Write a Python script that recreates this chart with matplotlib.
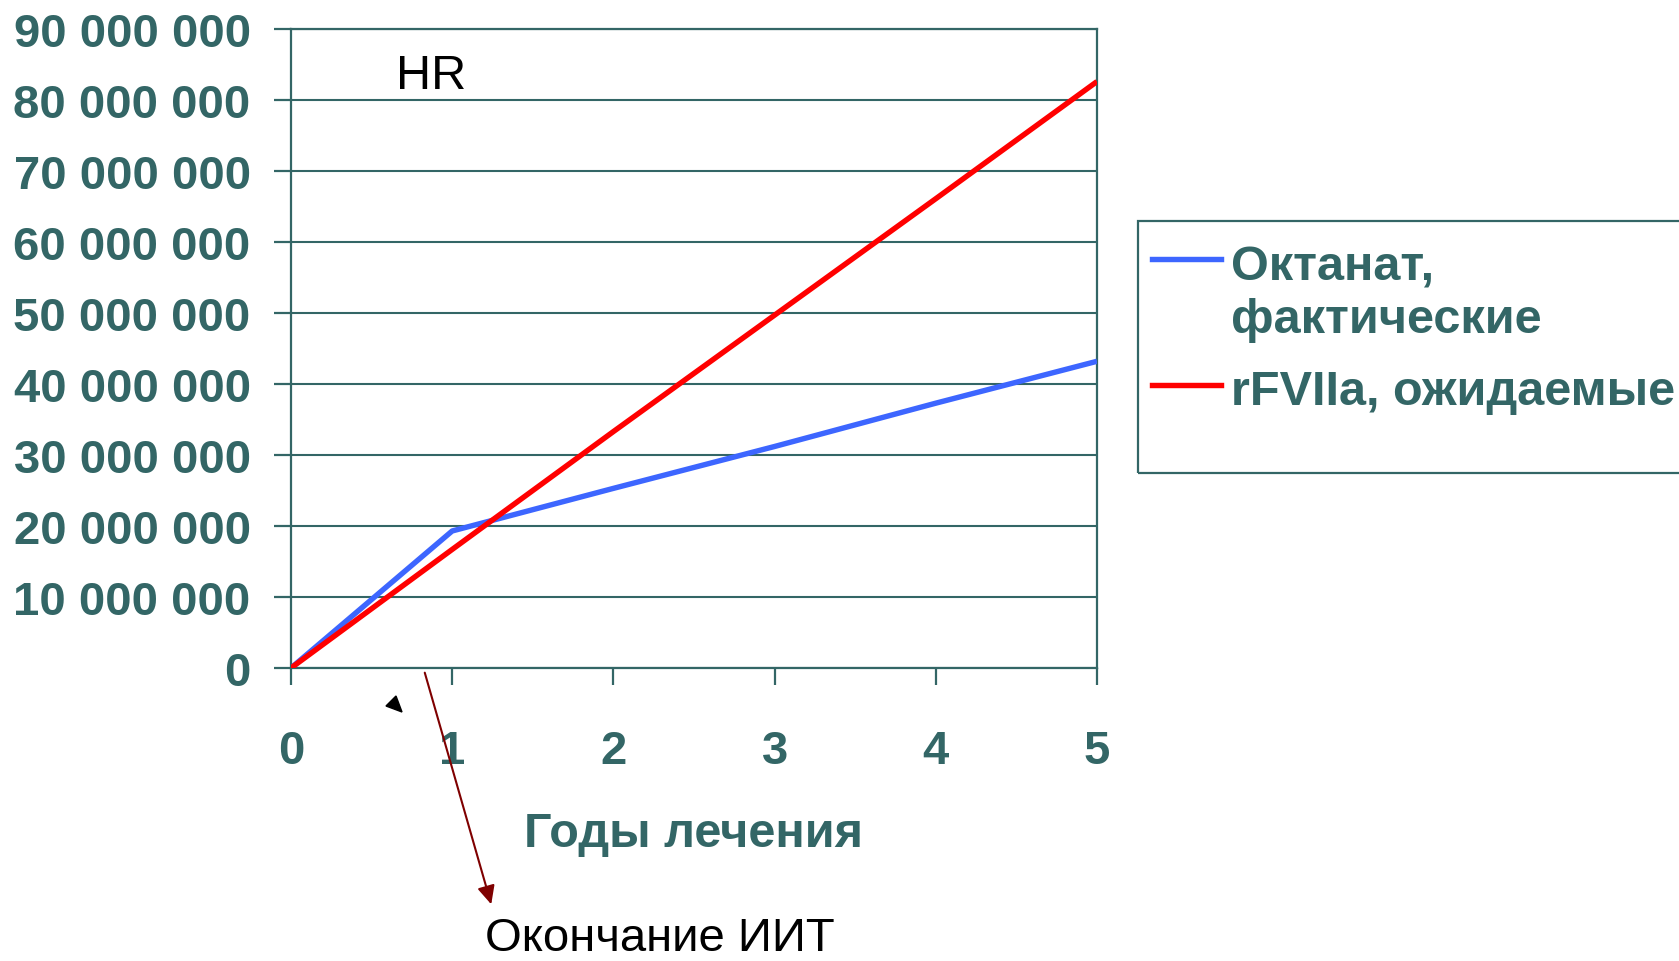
import matplotlib
matplotlib.use("Agg")
import matplotlib.pyplot as plt
from matplotlib.lines import Line2D
from matplotlib.patches import Rectangle, FancyArrowPatch, Polygon
from matplotlib.ticker import FuncFormatter, MultipleLocator

plt.rcParams['font.family'] = ['Liberation Sans', 'DejaVu Sans']

# ---- data ----
years = [0, 1, 2, 3, 4, 5]
octanat = [0, 19_300_000, 25_300_000, 31_200_000, 37_300_000, 43_200_000]
rfviia = [0, 16_700_000, 33_300_000, 49_700_000, 66_100_000, 82_600_000]
series_names = ["Октанат,\nфактические", "rFVIIa, ожидаемые"]
series_colors = ["#3D66FF", "#FF0000"]
xlabel = "Годы лечения"
annot_hr = "HR"
annot_iit = "Окончание ИИТ"

TEAL = "#336666"
W, H = 1679, 962

fig = plt.figure(figsize=(W / 100, H / 100), dpi=100)
ax = fig.add_axes([291 / W, 1 - 669 / H, (1097 - 291) / W, (669 - 30) / H])

ax.plot(years, octanat, color=series_colors[0], lw=3.9, solid_capstyle='butt', zorder=3)
ax.plot(years, rfviia, color=series_colors[1], lw=3.9, solid_capstyle='butt', zorder=4)

ax.set_xlim(0, 5)
ax.set_ylim(0, 90_000_000)
ax.xaxis.set_major_locator(MultipleLocator(1))
ax.yaxis.set_major_locator(MultipleLocator(10_000_000))
ax.yaxis.set_major_formatter(FuncFormatter(lambda v, p: f"{int(round(v)):,}".replace(",", " ")))

ax.grid(axis='y', color=TEAL, lw=1.5)
ax.set_axisbelow(True)
for s in ax.spines.values():
    s.set_color(TEAL)
    s.set_linewidth(1.6)

ax.tick_params(axis='both', direction='out', length=12, width=1.6, color=TEAL,
               labelcolor=TEAL, labelsize=34)
ax.tick_params(axis='x', pad=32)
ax.tick_params(axis='y', pad=17)
for lab in ax.get_xticklabels() + ax.get_yticklabels():
    lab.set_fontweight('bold')

ax.set_xlabel(xlabel, fontsize=35, fontweight='bold', color=TEAL)
ax.xaxis.set_label_coords(0.5, (669 - 847) / 639)
ax.xaxis.label.set_verticalalignment('baseline')

# HR annotation
ax.text((396 - 291) / 806, (669 - 89) / 639, annot_hr, transform=ax.transAxes,
        fontsize=35, color='black', va='baseline', ha='left')

# "Окончание ИИТ" annotation with arrow
fig.text(485 / W, 1 - 951 / H, annot_iit, fontsize=34, color='black',
         va='baseline', ha='left')
arrow = FancyArrowPatch((424 / W, 1 - 671 / H), (492 / W, 1 - 908 / H),
                        transform=fig.transFigure,
                        arrowstyle='-|>,head_length=0.8,head_width=0.38',
                        mutation_scale=14, color='#7F0000', lw=1.5)
fig.add_artist(arrow)

# small black triangle
tri = Polygon([(386 / W, 1 - 707 / H), (396 / W, 1 - 697 / H), (402 / W, 1 - 713 / H)],
              closed=True, transform=fig.transFigure, color='black')
fig.add_artist(tri)

# legend (drawn manually)
frame = Rectangle((1138 / W, 1 - 474 / H), 1.0, (474 - 222) / H,
                  transform=fig.transFigure, fill=False, edgecolor=TEAL, lw=1.6)
fig.add_artist(frame)
handle_y = [260, 386]
baselines = [280, 405]
for name, col, hy, bl in zip(series_names, series_colors, handle_y, baselines):
    fig.add_artist(Line2D([1152 / W, 1221 / W], [1 - hy / H, 1 - hy / H],
                          transform=fig.transFigure, color=col, lw=3.9))
    for i, line in enumerate(name.split("\n")):
        fig.text(1231 / W, 1 - (bl + i * 53) / H, line, fontsize=35,
                 fontweight='bold', color=TEAL, va='baseline', ha='left')

fig.savefig("out.png", dpi=100)
